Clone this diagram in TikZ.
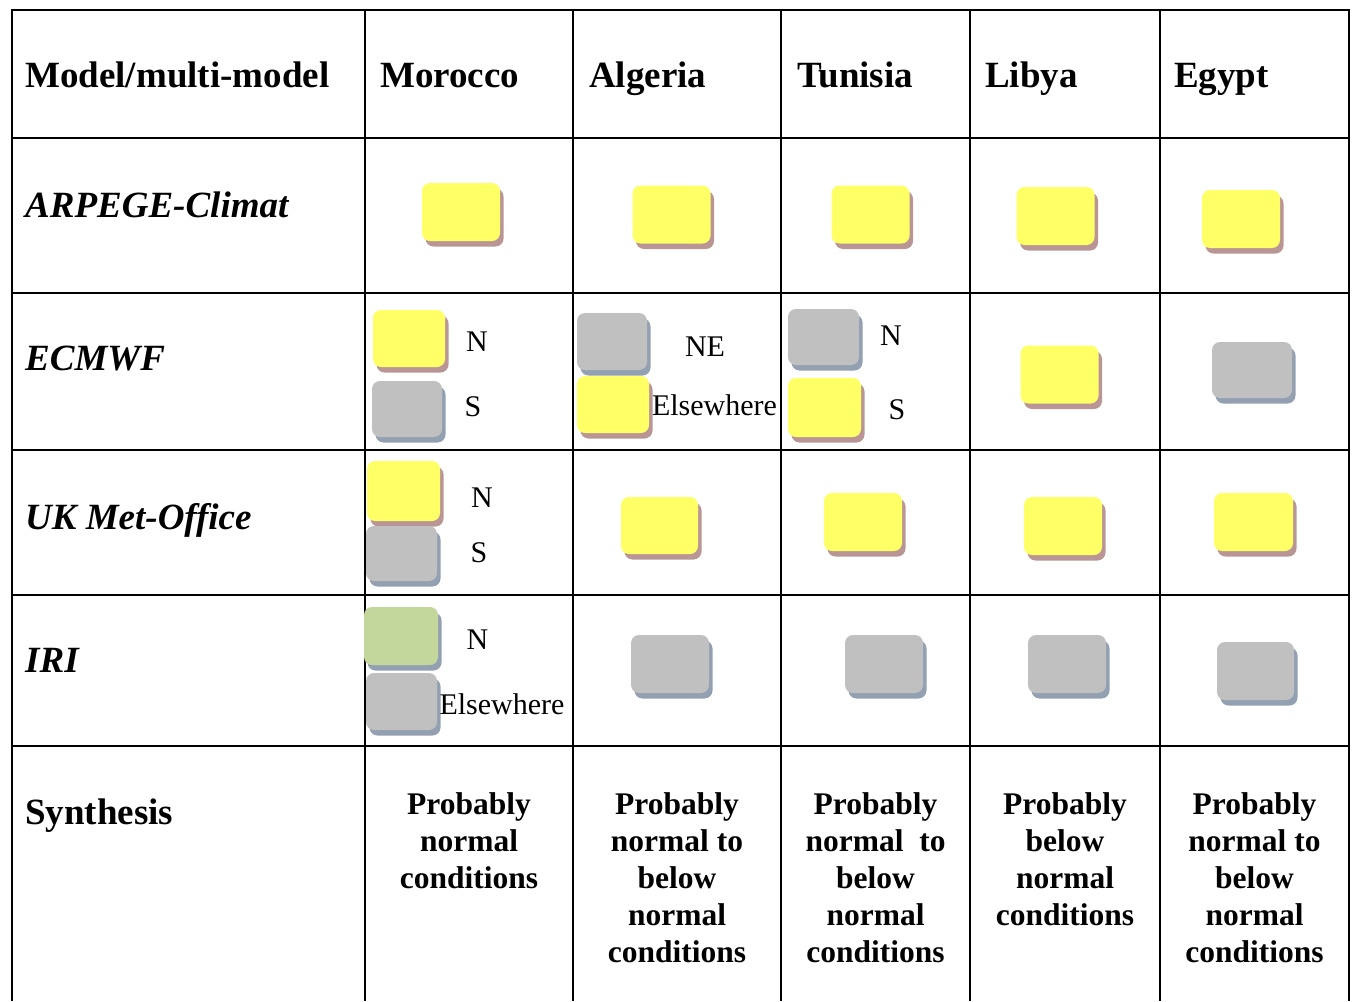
\documentclass[tikz,border=0pt]{standalone}
\usepackage{fontspec}
\setmainfont{Liberation Serif}
\usetikzlibrary{shadows}
\definecolor{yface}{HTML}{FFFF66}
\definecolor{ysh}{HTML}{B99595}
\definecolor{gface}{HTML}{C0C0C0}
\definecolor{gsh}{HTML}{93A0B2}
\definecolor{grface}{HTML}{C3D69B}
\tikzset{
  grid/.style={line width=2.5pt, black},
  hdr/.style={anchor=base west, inner sep=0pt, font=\fontsize{37}{41}\selectfont\bfseries},
  rowlab/.style={anchor=base west, inner sep=0pt, font=\fontsize{37}{41}\selectfont\bfseries\itshape},
  lab/.style={anchor=base, inner sep=0pt, font=\fontsize{30}{34}\selectfont},
  syn/.style={anchor=north, inner sep=0pt, align=center, font=\fontsize{31.5}{37}\selectfont\bfseries},
  bx/.style={rounded corners=8pt, inner sep=0pt, minimum width=#1},
  ybox/.style={bx=78pt, minimum height=58pt, fill=yface, drop shadow={shadow xshift=3.5pt, shadow yshift=-5.5pt, fill=ysh, opacity=1}},
  gbox/.style={bx=78pt, minimum height=58pt, fill=gface, drop shadow={shadow xshift=3.5pt, shadow yshift=-5.5pt, fill=gsh, opacity=1}},
  grbox/.style={bx=74pt, minimum height=58pt, fill=grface, drop shadow={shadow xshift=3.5pt, shadow yshift=-5.5pt, fill=gsh, opacity=1}},
  sm/.style={minimum width=72pt, minimum height=57pt},
}
\begin{document}
\begin{tikzpicture}[x=1pt, y=-1pt]
\useasboundingbox (0,0) rectangle (1356,1001);
% grid
\foreach \yy in {10,138,293,450,595,746} \draw[grid] (10.75,\yy) -- (1350.25,\yy);
\foreach \xx in {12,365,573,781,970,1160,1349} \draw[grid] (\xx,8.75) -- (\xx,1001);
% header
\node[hdr] (h0) at (25,87) {Model/multi-model};
\node[hdr] (h1) at (380,87) {Morocco};
\node[hdr] (h2) at (589,87) {Algeria};
\node[hdr] (h3) at (797,87) {Tunisia};
\node[hdr] (h4) at (985,87) {Libya};
\node[hdr] (h5) at (1174,87) {Egypt};
% row labels
\node[rowlab] (r1) at (25,217) {ARPEGE-Climat};
\node[rowlab] (r2) at (25,370) {ECMWF};
\node[rowlab] (r3) at (25,529) {UK Met-Office};
\node[rowlab] (r4) at (25,672) {IRI};
\node[hdr] (r5) at (25,824) {Synthesis};
% ARPEGE row
\node[ybox] (a1) at (461,212) {};
\node[ybox] (a2) at (671.5,214.5) {};
\node[ybox] (a3) at (870.5,214.5) {};
\node[ybox] (a4) at (1055.5,216) {};
\node[ybox] (a5) at (1241,219) {};
% ECMWF row
\node[ybox, sm] (e1n) at (409,338.5) {};
\node[lab] (e1nl) at (477,351) {N};
\node[gbox, minimum width=70pt, minimum height=56pt] (e1s) at (407,409) {};
\node[lab] (e1sl) at (473,416) {S};
\node[gbox, minimum width=70pt, minimum height=57pt] (e2ne) at (612,341.5) {};
\node[lab] (e2nel) at (705,356) {NE};
\node[ybox, sm] (e2el) at (613,404.5) {};
\node[lab] (e2ell) at (714.5,415) {Elsewhere};
\node[gbox, minimum width=71pt, minimum height=56pt] (e3n) at (823.5,337) {};
\node[lab] (e3nl) at (891,345) {N};
\node[ybox, minimum width=73pt, minimum height=59pt] (e3s) at (824.5,407.5) {};
\node[lab] (e3sl) at (897,419) {S};
\node[ybox] (e4) at (1059.5,374.5) {};
\node[gbox, minimum width=80pt, minimum height=56pt] (e5) at (1252,370) {};
% UK row
\node[ybox, minimum width=73pt, minimum height=60pt] (u1n) at (403.5,491) {};
\node[lab] (u1nl) at (482,507) {N};
\node[gbox, minimum width=71pt, minimum height=55pt] (u1s) at (401.5,553.5) {};
\node[lab] (u1sl) at (479,562) {S};
\node[ybox, minimum width=77pt, minimum height=57pt] (u2) at (659.5,525.5) {};
\node[ybox] (u3) at (863,522) {};
\node[ybox] (u4) at (1063,526) {};
\node[ybox, minimum width=79pt] (u5) at (1253.5,522) {};
% IRI row
\node[grbox] (i1n) at (401,636) {};
\node[lab] (i1nl) at (477.5,649) {N};
\node[gbox, minimum width=71pt, minimum height=57pt] (i1el) at (401.5,701.5) {};
\node[lab] (i1ell) at (502,714) {Elsewhere};
\node[gbox] (i2) at (670,664) {};
\node[gbox] (i3) at (884,664) {};
\node[gbox] (i4) at (1067,664) {};
\node[gbox, minimum width=77pt] (i5) at (1255.5,671) {};
% synthesis
\node[syn] (s1) at (469,792) {Probably\\normal\\conditions};
\node[syn] (s2) at (677,792) {Probably\\normal to\\below\\normal\\conditions};
\node[syn] (s3) at (875.5,792) {Probably\\normal~~to\\below\\normal\\conditions};
\node[syn] (s4) at (1065,792) {Probably\\below\\normal\\conditions};
\node[syn] (s5) at (1254.5,792) {Probably\\normal to\\below\\normal\\conditions};
\end{tikzpicture}
\end{document}
